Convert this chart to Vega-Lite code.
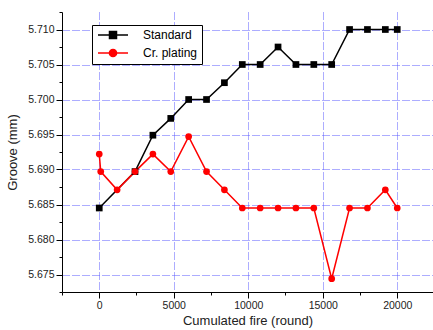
{
  "$schema": "https://vega.github.io/schema/vega-lite/v6.json",
  "width": 371,
  "height": 280,
  "autosize": {"type": "none"},
  "padding": {"left": 62, "top": 12, "right": 0, "bottom": 38},
  "background": "white",
  "config": {
    "view": {"stroke": null},
    "font": "Liberation Sans",
    "axis": {
      "domainColor": "black",
      "domainWidth": 1,
      "tickColor": "black",
      "tickWidth": 1,
      "labelFont": "Liberation Sans",
      "labelFontSize": 10.5,
      "labelColor": "#222",
      "titleFont": "Liberation Sans",
      "titleFontSize": 13,
      "titleFontWeight": "normal",
      "titleColor": "#222",
      "gridColor": "#5a5aff",
      "gridDash": [1, 1, 1, 1, 1, 1, 1, 3],
      "gridWidth": 1
    }
  },
  "data": {
    "values": [
      {"x": 0, "y": 5.6845, "series": "Standard"},
      {"x": 2400, "y": 5.6897, "series": "Standard"},
      {"x": 3600, "y": 5.6949, "series": "Standard"},
      {"x": 4800, "y": 5.6973, "series": "Standard"},
      {"x": 6000, "y": 5.7, "series": "Standard"},
      {"x": 7200, "y": 5.7, "series": "Standard"},
      {"x": 8400, "y": 5.7024, "series": "Standard"},
      {"x": 9600, "y": 5.705, "series": "Standard"},
      {"x": 10800, "y": 5.705, "series": "Standard"},
      {"x": 12000, "y": 5.7075, "series": "Standard"},
      {"x": 13200, "y": 5.705, "series": "Standard"},
      {"x": 14400, "y": 5.705, "series": "Standard"},
      {"x": 15600, "y": 5.705, "series": "Standard"},
      {"x": 16800, "y": 5.71, "series": "Standard"},
      {"x": 18000, "y": 5.71, "series": "Standard"},
      {"x": 19200, "y": 5.71, "series": "Standard"},
      {"x": 20000, "y": 5.71, "series": "Standard"},
      {"x": 0, "y": 5.6922, "series": "Cr. plating"},
      {"x": 100, "y": 5.6897, "series": "Cr. plating"},
      {"x": 1200, "y": 5.6871, "series": "Cr. plating"},
      {"x": 2400, "y": 5.6897, "series": "Cr. plating"},
      {"x": 3600, "y": 5.6922, "series": "Cr. plating"},
      {"x": 4800, "y": 5.6897, "series": "Cr. plating"},
      {"x": 6000, "y": 5.6947, "series": "Cr. plating"},
      {"x": 7200, "y": 5.6897, "series": "Cr. plating"},
      {"x": 8400, "y": 5.6871, "series": "Cr. plating"},
      {"x": 9600, "y": 5.6845, "series": "Cr. plating"},
      {"x": 10800, "y": 5.6845, "series": "Cr. plating"},
      {"x": 12000, "y": 5.6845, "series": "Cr. plating"},
      {"x": 13200, "y": 5.6845, "series": "Cr. plating"},
      {"x": 14400, "y": 5.6845, "series": "Cr. plating"},
      {"x": 15600, "y": 5.6744, "series": "Cr. plating"},
      {"x": 16800, "y": 5.6845, "series": "Cr. plating"},
      {"x": 18000, "y": 5.6845, "series": "Cr. plating"},
      {"x": 19200, "y": 5.6871, "series": "Cr. plating"},
      {"x": 20000, "y": 5.6845, "series": "Cr. plating"}
    ]
  },
  "encoding": {
    "x": {
      "field": "x",
      "type": "quantitative",
      "scale": {"domain": [-2500, 22400], "nice": false, "zero": false},
      "axis": {
        "title": "Cumulated fire (round)",
        "values": [-2500, 0, 2500, 5000, 7500, 10000, 12500, 15000, 17500, 20000],
        "format": "d",
        "labelExpr": "datum.value % 5000 === 0 ? datum.label : ''",
        "tickSize": {"condition": {"test": "datum.value % 5000 !== 0", "value": 3}, "value": 6},
        "gridOpacity": {"condition": {"test": "datum.value % 5000 !== 0", "value": 0}, "value": 1},
        "labelPadding": 2,
        "titlePadding": 4,
        "labelFlush": false
      }
    },
    "y": {
      "field": "y",
      "type": "quantitative",
      "scale": {"domain": [5.6725, 5.7125], "nice": false, "zero": false},
      "axis": {
        "title": "Groove (mm)",
        "values": [5.6725, 5.675, 5.6775, 5.68, 5.6825, 5.685, 5.6875, 5.69, 5.6925, 5.695, 5.6975, 5.7, 5.7025, 5.705, 5.7075, 5.71, 5.7125],
        "format": ".3f",
        "labelExpr": "abs(datum.value*200 - round(datum.value*200)) < 1e-6 ? datum.label : ''",
        "tickSize": {"condition": {"test": "abs(datum.value*200 - round(datum.value*200)) > 1e-6", "value": 3}, "value": 6},
        "gridOpacity": {"condition": {"test": "abs(datum.value*200 - round(datum.value*200)) > 1e-6", "value": 0}, "value": 1},
        "labelPadding": 2,
        "titlePadding": 8,
        "labelFlush": false
      }
    },
    "color": {
      "field": "series",
      "type": "nominal",
      "scale": {"domain": ["Standard", "Cr. plating"], "range": ["#000000", "#ff0000"]},
      "legend": {
        "title": null,
        "orient": "none",
        "legendX": 30,
        "legendY": 13,
        "fillColor": "white",
        "strokeColor": "black",
        "padding": 4,
        "symbolOffset": 11,
        "symbolSize": 100,
        "symbolType": "M-3,0H3M-0.7,-0.7H0.7V0.7H-0.7Z",
        "symbolStrokeWidth": 1.5,
        "labelFontSize": 12,
        "labelFont": "Liberation Sans",
        "labelColor": "black",
        "labelOffset": 24,
        "rowPadding": 4,
        "encode": {
          "symbols": {
            "update": {
              "shape": {"signal": "datum.value === 'Standard' ? 'M-3,0H3M-0.7,-0.7H0.7V0.7H-0.7Z' : 'M-3,0H3M0.72,0A0.72,0.72,0,1,1,-0.72,0A0.72,0.72,0,1,1,0.72,0Z'"},
              "fill": {"signal": "datum.value === 'Standard' ? '#000000' : '#ff0000'"},
              "stroke": {"signal": "datum.value === 'Standard' ? '#000000' : '#ff0000'"},
              "strokeWidth": {"value": 1.5},
              "opacity": {"value": 1}
            }
          }
        }
      }
    }
  },
  "layer": [
    {
      "mark": {"type": "line", "strokeWidth": 1.5},
      "encoding": {"order": {"field": "x", "type": "quantitative"}}
    },
    {
      "transform": [{"filter": "datum.series === 'Standard'"}],
      "mark": {"type": "point", "shape": "square", "filled": true, "opacity": 1, "size": 45}
    },
    {
      "transform": [{"filter": "datum.series === 'Cr. plating'"}],
      "mark": {"type": "point", "shape": "circle", "filled": true, "opacity": 1, "size": 45}
    }
  ]
}
